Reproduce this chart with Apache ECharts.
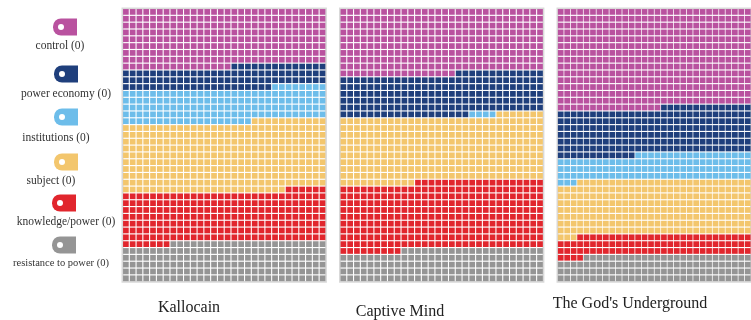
<!DOCTYPE html>
<html>
<head>
<meta charset="utf-8">
<script src="https://cdn.jsdelivr.net/npm/echarts@6/dist/echarts.min.js"></script>
<style>
html,body{margin:0;padding:0;background:#fff;overflow:hidden}
/* source picture is a soft scan, a small blur gets closer to it */
#main{width:751px;height:320px;filter:blur(0.5px)}
</style>
</head>
<body>
<div id="main"></div>
<script>
var categories = ['control', 'power economy', 'institutions', 'subject', 'knowledge/power', 'resistance to power'];
var legendCounts = [0, 0, 0, 0, 0, 0];
var books = ['Kallocain', 'Captive Mind', "The God's Underground"];
// cells out of 1200, read by counting rows in the picture
var kallocain = [256, 96, 147, 305, 223, 173];
var captiveMind = [287, 182, 4, 288, 298, 141];
var godsUnderground = [436, 206, 111, 240, 91, 116];
var colors = ['#B9529F', '#1F3F7C', '#6DBDEA', '#F3C66D', '#E1262D', '#959595'];

var COLS = 30, ROWS = 40;
var panels = [
	{ values: kallocain, left: 122.5 },
	{ values: captiveMind, left: 340 },
	{ values: godsUnderground, left: 557.5 }
];
var grids = [], xAxes = [], yAxes = [], series = [];

// waffle fills from the bottom right, leftwards, row by row
function cellsFor(values) {
	var out = [], n = 0;
	for (var i = values.length - 1; i >= 0; i--) {
		var cells = [];
		for (var k = 0; k < values[i]; k++, n++) {
			var col = COLS - 1 - (n % COLS);
			var row = ROWS - 1 - Math.floor(n / COLS);
			cells.push([col + 0.5, row + 0.5]);
		}
		out[i] = cells;
	}
	return out;
}

panels.forEach(function (p, idx) {
	grids.push({
		left: p.left, top: 8.5, width: 203.4, height: 273.2,
		show: true, backgroundColor: '#fff', borderColor: '#d9d9d9', borderWidth: 2
	});
	xAxes.push({ type: 'value', gridIndex: idx, min: 0, max: COLS, show: false });
	yAxes.push({ type: 'value', gridIndex: idx, min: 0, max: ROWS, inverse: true, show: false });
	var cells = cellsFor(p.values);
	categories.forEach(function (name, i) {
		series.push({
			name: name, type: 'scatter', xAxisIndex: idx, yAxisIndex: idx,
			data: cells[i], symbol: 'rect', symbolSize: [5.7, 5.7],
			itemStyle: { color: colors[i], opacity: 1 }, silent: true
		});
	});
});

// legend is stacked icon over label, drawn by hand
var legendLayout = [
	{ ix: 65, iy: 27, tx: 60, ty: 46 },
	{ ix: 66, iy: 74, tx: 66, ty: 94 },
	{ ix: 66, iy: 117, tx: 56, ty: 138 },
	{ ix: 66, iy: 162, tx: 51, ty: 181 },
	{ ix: 64, iy: 203, tx: 66, ty: 222 },
	{ ix: 64, iy: 245, tx: 61, ty: 263 }
];
var titleLayout = [{ x: 189, y: 308 }, { x: 400, y: 312 }, { x: 630, y: 304 }];
var serif = '"Liberation Serif", serif';
var graphic = [];

categories.forEach(function (name, i) {
	var l = legendLayout[i];
	graphic.push({
		type: 'rect', silent: true,
		shape: { x: l.ix - 12, y: l.iy - 8.5, width: 24, height: 17, r: [8, 0, 0, 8] },
		style: { fill: colors[i] }
	});
	graphic.push({
		type: 'circle', silent: true,
		shape: { cx: l.ix - 4, cy: l.iy, r: 3 },
		style: { fill: '#fff' }
	});
	graphic.push({
		type: 'text', silent: true, x: l.tx, y: l.ty,
		style: {
			text: name + ' (' + legendCounts[i] + ')', fill: '#333',
			font: (i == 5 ? '10.5px ' : '11.5px ') + serif, align: 'center', verticalAlign: 'middle'
		}
	});
});
books.forEach(function (b, i) {
	graphic.push({
		type: 'text', silent: true, x: titleLayout[i].x, y: titleLayout[i].y,
		style: { text: b, fill: '#222', font: '16px ' + serif, align: 'center', verticalAlign: 'middle' }
	});
});

var chart = echarts.init(document.getElementById('main'), null, { renderer: 'canvas' });
chart.setOption({
	animation: false,
	grid: grids,
	xAxis: xAxes,
	yAxis: yAxes,
	series: series,
	graphic: graphic
});
</script>
</body>
</html>
